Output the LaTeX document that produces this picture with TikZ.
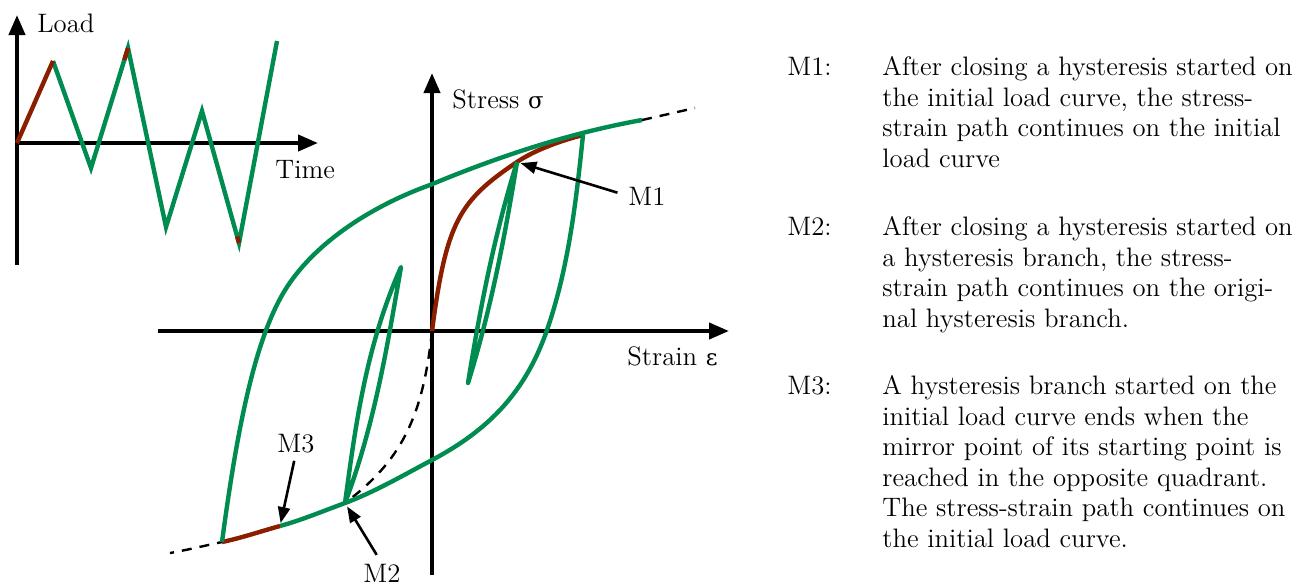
\documentclass[tikz,border=0pt]{standalone}
\usepackage{fontspec}
\newfontfamily\grk{DejaVu Serif}[Scale=0.85]
\usetikzlibrary{arrows.meta,calc}
\definecolor{hgreen}{RGB}{0,140,80}
\definecolor{hred}{RGB}{140,30,0}

\begin{document}
\begin{tikzpicture}[
  x=0.5pt, y=-0.5pt,
  font=\fontsize{13.35}{15.25}\selectfont,
  ax/.style={line width=2pt,-{Triangle[length=10pt,width=8pt]}},
  crv/.style={line width=2.2pt,hgreen,line join=round},
  ini/.style={line width=2.2pt,hred},
  skel/.style={line width=1.2pt,dash pattern=on 5pt off 4pt},
  lbl/.style={inner sep=0pt,anchor=base west},
  marr/.style={line width=1.3pt,-{Triangle[length=8pt,width=6pt]}},
  desc/.style={inner sep=0pt,anchor=north west,align=left}
]
\useasboundingbox (0,0) rectangle (1315,586);

% Load history
\coordinate (lo) at (17,143);
\coordinate (ltop) at (17,15);
\coordinate (lbot) at (17,265);
\coordinate (tend) at (318,143);
\coordinate (l1) at (53,61);
\coordinate (l2) at (91,168);
\coordinate (l3) at (128,48);
\coordinate (l4) at (166,227);
\coordinate (l5) at (202,111);
\coordinate (l6) at (239,243);
\coordinate (l7) at (277,41);
\draw[ax] (lbot) -- (ltop);
\draw[ax] (lo) -- (tend);
\node[lbl] (load) at (37,32) {Load};
\node[lbl] (time) at (275,178) {Time};
\draw[crv,line join=miter] (l1) -- (l2) -- (l3) -- (l4) -- (l5) -- (l6) -- (l7);
\draw[ini] (lo) -- (l1);
\draw[ini] ($(l2)!0.9!(l3)$) -- (l3);
\draw[ini] ($(l5)!0.95!(l6)$) -- (l6);

% Stress-strain axes
\coordinate (O) at (432,331);
\coordinate (stop) at (432,73);
\coordinate (sbot) at (432,575);
\coordinate (eleft) at (158,331);
\coordinate (eend) at (729,331);
\draw[ax] (sbot) -- (stop);
\draw[ax] (eleft) -- (eend);
\node[lbl] (stress) at (452,108) {Stress {\grk σ}};
\node[lbl] (strain) at (627,365) {Strain {\grk ε}};

% Points
\coordinate (A) at (517,162);
\coordinate (P) at (583,135);
\coordinate (Q) at (642,120);
\coordinate (E) at (695,108);
\coordinate (B) at (468,383);
\coordinate (C) at (401,267);
\coordinate (Am) at (345,503);
\coordinate (Pm) at (280,526);
\coordinate (Qm) at (222,542);
\coordinate (Em) at (170,553);

% Initial load curve and its mirror
\draw[skel] (Q) .. controls (660,116) and (677,112) .. (E);
\draw[skel] (O) .. controls (422.9,417.6) and (401,461) .. (Am)
  .. controls (315,514.2) and (300.2,520.4) .. (Pm)
  .. controls (260.7,531.3) and (241.6,537.9) .. (Qm)
  .. controls (205.4,545.5) and (187,550) .. (Em);
\draw[ini] (O) .. controls (446.3,222) and (458.9,201) .. (A)
  .. controls (535.3,149.7) and (561.7,140.4) .. (P);

% Hysteresis branches
\draw[crv] (P) .. controls (576.2,200.7) and (568.6,267.6) .. (547,330)
  .. controls (525.7,391.4) and (489.5,429.6) .. (432,460)
  .. controls (403.7,475) and (375,491.8) .. (Am)
  .. controls (315,514.2) and (300.2,520.4) .. (Pm);
\draw[ini] (Pm) .. controls (260.7,531.3) and (241.6,537.9) .. (Qm);
\draw[crv] (Qm) .. controls (236.6,433) and (254.3,337.3) .. (287,287)
  .. controls (317,240.9) and (373.5,205.3) .. (430,185)
  .. controls (499.6,156) and (569.8,133) .. (Q);
\draw[crv] (A) .. controls (494,236) and (480,309) .. (B)
  .. controls (491,309) and (505,236) .. (A);
\draw[crv] (Am) .. controls (355.7,424) and (366,346) .. (C)
  .. controls (387.3,346) and (374.7,424) .. (Am);

% Markers
\node[lbl] (m1) at (628,205) {M1};
\node[lbl] (m2) at (363,582) {M2};
\node[lbl] (m3) at (277,452) {M3};
\draw[marr,shorten <=5.5pt,shorten >=1.8pt] (m1.west) -- (A);
\draw[marr,shorten <=5pt,shorten >=2pt] (m2.north) -- (Am);
\draw[marr,shorten <=4pt,shorten >=1.5pt] (m3.south) -- (Pm);

% Rules
\node[lbl] (k1) at (787,75) {M1:};
\node[desc] (d1) at (882,56.4) {After closing a hysteresis started on\\the initial load curve, the stress-\\strain path continues on the initial\\load curve};
\node[lbl] (k2) at (787,235) {M2:};
\node[desc] (d2) at (882,216.4) {After closing a hysteresis started on\\a hysteresis branch, the stress-\\strain path continues on the origi-\\nal hysteresis branch.};
\node[lbl] (k3) at (787,394) {M3:};
\node[desc] (d3) at (882,375.4) {A hysteresis branch started on the\\initial load curve ends when the\\mirror point of its starting point is\\reached in the opposite quadrant.\\The stress-strain path continues on\\the initial load curve.};
\end{tikzpicture}
\end{document}
